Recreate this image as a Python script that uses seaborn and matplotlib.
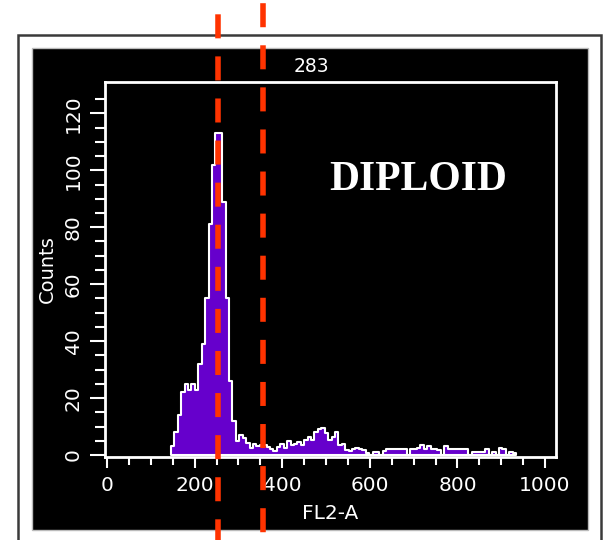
import numpy as np
import pandas as pd
import matplotlib
matplotlib.use('Agg')
import matplotlib.pyplot as plt
import seaborn as sns
from matplotlib.patches import Rectangle

# FL2-A histogram, counts per channel bin
bin_start = 146
bin_width = 7.8
counts = [3, 8, 14, 22, 25, 23, 25, 23, 32, 39,
          55, 81, 102, 113, 113, 89, 55, 26, 12, 5,
          7, 6, 4.2, 2.5, 4, 3, 3.5, 3.5, 2.7, 2,
          1.5, 2.7, 4, 2.3, 5, 3.5, 4, 4.4, 3.5, 5.3,
          6.4, 5.3, 8.2, 9, 9.5, 7.8, 5.3, 6.4, 8.2, 3.5,
          4, 1.8, 1.5, 2, 2.3, 2, 1.8, 0.8, 0, 1.2,
          1.2, 0, 1.5, 2, 2, 2, 2, 2, 2, 0,
          2, 2, 2.5, 3.5, 2, 3, 2, 2, 1.8, 0,
          3, 2, 2, 2, 2, 2, 2, 0, 1.2, 1.2,
          1.2, 1.2, 2, 0, 1.2, 0, 2.5, 2, 0, 1.2,
          0.8]
gate_x = [253, 356]
x_ticks = [0, 200, 400, 600, 800, 1000]
y_ticks = [0, 20, 40, 60, 80, 100, 120]
title_text = '283'
label_text = 'DIPLOID'

edges = bin_start + bin_width * np.arange(len(counts) + 1)
centers = (edges[:-1] + edges[1:]) / 2
df = pd.DataFrame({'FL2-A': centers, 'Counts': counts})

sns.set_style('dark')
plt.rcParams['font.family'] = ['DejaVu Sans']
plt.rcParams['lines.scale_dashes'] = False

fig = plt.figure(figsize=(6.04, 5.4), dpi=100)
fig.patch.set_facecolor('white')

# outer frame and black panel
fig.add_artist(Rectangle((18/604, -0.05), 583/604, 0.985, transform=fig.transFigure,
                         fill=False, edgecolor='#3a3a3a', lw=1.8, zorder=-2))
fig.add_artist(Rectangle((32/604, 10/540), 556/604, 482/540, transform=fig.transFigure,
                         facecolor='black', edgecolor='#bbbbbb', lw=1, zorder=-1))

ax = fig.add_axes([105/604, 1 - 457/540, 451/604, 375/540])
ax.set_facecolor('black')

sns.histplot(data=df, x='FL2-A', weights='Counts', binwidth=bin_width,
             binrange=(edges[0], edges[-1]), element='step',
             fill=True, color='#6600cc', edgecolor='white', linewidth=1.5,
             alpha=1, ax=ax)

ax.set_xlim(-4.6, 1025)
ax.set_ylim(-0.7, 131)
ax.grid(False)
ax.set_xticks(x_ticks)
ax.set_xticks(np.arange(0, 1001, 50), minor=True)
ax.set_yticks(y_ticks)
ax.set_yticks(np.arange(0, 126, 5), minor=True)

ax.tick_params(which='both', bottom=True, left=True, direction='out',
               colors='white', width=1.5)
ax.tick_params(axis='x', which='major', length=8, labelsize=14.5, pad=6)
ax.tick_params(axis='x', which='minor', length=6)
ax.tick_params(axis='y', which='major', length=11, labelsize=14.5, pad=5,
               labelrotation=90)
ax.tick_params(axis='y', which='minor', length=7)
for t in ax.get_yticklabels():
    t.set_va('center')

for s in ax.spines.values():
    s.set_color('white')
    s.set_linewidth(2)

ax.set_xlabel('FL2-A', color='white', fontsize=14.5, labelpad=6)
ax.set_ylabel('Counts', color='white', fontsize=14, labelpad=5)
ax.set_title(title_text, x=0.457, color='white', fontsize=13.5, pad=7)

ax.text(0.694, 0.739, label_text, transform=ax.transAxes, ha='center', va='center',
        fontsize=30, fontweight='bold', family='Liberation Serif', color='white')

# gate lines across the whole picture
for gx, off in zip(gate_x, [20, 28]):
    ax.plot([gx, gx], [1.22, -0.23], transform=ax.get_xaxis_transform(),
            color='#ff3300', lw=4, linestyle=(off, (17.3, 13)),
            dash_capstyle='butt', clip_on=False, zorder=10)

fig.savefig('out.png', dpi=100)
